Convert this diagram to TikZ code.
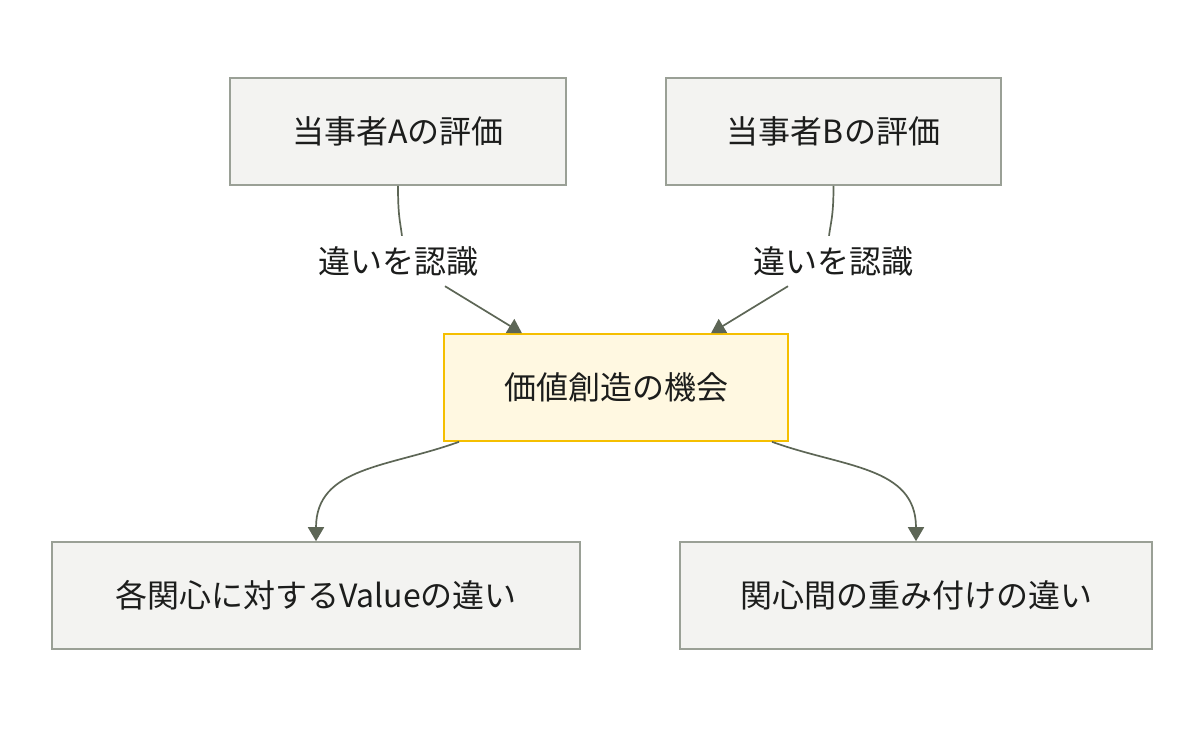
\documentclass[tikz,border=0pt]{standalone}
\usepackage{fontspec}
\setmainfont{Noto Sans CJK JP}
\usetikzlibrary{arrows.meta,positioning,calc}

\definecolor{boxfill}{HTML}{F3F3F1}
\definecolor{boxline}{HTML}{9AA096}
\definecolor{hubfill}{HTML}{FFF8E1}
\definecolor{hubline}{HTML}{F5BF00}
\definecolor{edgecol}{HTML}{5D6656}
\definecolor{txt}{HTML}{1C1D1C}

\begin{document}
\begin{tikzpicture}[
    x=1pt,y=1pt,
    box/.style={rectangle,draw=boxline,fill=boxfill,line width=1.6pt,
                minimum height=107pt,font=\fontsize{32}{37}\selectfont,
                text=txt},
    hub/.style={box,draw=hubline,fill=hubfill},
    lbl/.style={font=\fontsize{32}{37}\selectfont,text=txt,
                minimum height=50pt,inner sep=4pt},
    line/.style={line width=1.7pt,draw=edgecol},
    arr/.style={line,-{Triangle[length=14pt,width=16pt]}}
  ]
    \useasboundingbox (0,0) rectangle (1204,-732);

    \node[box,minimum width=336pt] (a) at (398,-131.5) {当事者Aの評価};
    \node[box,minimum width=335pt] (b) at (833.5,-131.5) {当事者Bの評価};
    \node[hub,minimum width=344pt] (c) at (616,-387.5) {価値創造の機会};
    \node[box,minimum width=528pt] (d) at (316,-595.5) {各関心に対するValueの違い};
    \node[box,minimum width=472pt] (e) at (916,-595.5) {関心間の重み付けの違い};

    \node[lbl] (la) at (398,-261) {違いを認識};
    \node[lbl] (lb) at (833,-261) {違いを認識};

    % A -> hub
    \draw[line] (a.south) .. controls +(0,-30) and +(-2,15) .. ([xshift=4pt]la.north);
    \draw[arr] ([xshift=47pt]la.south) -- ([xshift=-94pt]c.north);
    % B -> hub
    \draw[line] (b.south) .. controls +(0,-30) and +(2,15) .. ([xshift=-4pt]lb.north);
    \draw[arr] ([xshift=-45pt]lb.south) -- ([xshift=95pt]c.north);
    % hub -> bottom
    \draw[arr] ([xshift=-157pt]c.south) to[out=-160,in=90,looseness=1.1] (d.north);
    \draw[arr] ([xshift=156pt]c.south) to[out=-20,in=90,looseness=1.1] (e.north);
  \end{tikzpicture}
\end{document}
